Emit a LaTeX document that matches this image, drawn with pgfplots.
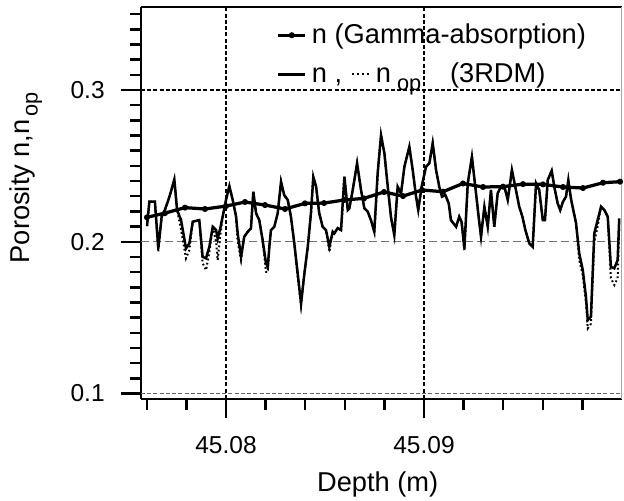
\documentclass[border=0pt]{standalone}
\usepackage{fontspec}
\setmainfont{Liberation Sans}
\usepackage{pgfplots}
\usepackage{pgfplotstable}
\pgfplotsset{compat=1.18}

% depth is given as offset from 45.07 m, in mm (45.08 m -> 10, 45.09 m -> 20)
\pgfplotstableread{
x n nop
6.01 0.2103 0.2103
6.13 0.2264 0.2264
6.41 0.2264 0.2264
6.58 0.1956 0.1934
6.75 0.2165 0.2165
6.88 0.2198 0.2198
7.06 0.2264 0.2264
7.22 0.2330 0.2330
7.39 0.2411 0.2411
7.53 0.2209 0.2209
7.73 0.2143 0.2080
7.98 0.1956 0.1891
8.15 0.1989 0.1946
8.32 0.2132 0.2132
8.65 0.2143 0.2143
8.82 0.1901 0.1860
8.99 0.1891 0.1813
9.16 0.1967 0.1930
9.33 0.2099 0.2099
9.50 0.2077 0.2000
9.58 0.2022 0.1879
9.71 0.2088 0.2040
9.83 0.2165 0.2165
10.00 0.2275 0.2275
10.17 0.2367 0.2367
10.34 0.2275 0.2275
10.51 0.2165 0.2165
10.59 0.2055 0.2000
10.76 0.1901 0.1880
10.92 0.2033 0.2033
11.10 0.2066 0.2066
11.26 0.2088 0.2088
11.38 0.2330 0.2330
11.52 0.2187 0.2187
11.68 0.2143 0.2143
11.85 0.2011 0.2011
12.02 0.1858 0.1802
12.11 0.1835 0.1800
12.19 0.1967 0.1967
12.27 0.2077 0.2077
12.44 0.2099 0.2099
12.61 0.2187 0.2187
12.78 0.2396 0.2396
12.94 0.2308 0.2308
13.12 0.2275 0.2275
13.28 0.2165 0.2165
13.45 0.1989 0.1989
13.62 0.1792 0.1770
13.79 0.1594 0.1580
13.96 0.1792 0.1792
14.13 0.1967 0.1967
14.29 0.2187 0.2187
14.41 0.2428 0.2428
14.55 0.2363 0.2363
14.71 0.2187 0.2187
14.88 0.2099 0.2099
15.05 0.2077 0.2077
15.22 0.1967 0.1934
15.39 0.2066 0.2066
15.47 0.2055 0.2055
15.64 0.2090 0.2090
15.81 0.2077 0.2077
15.98 0.2428 0.2428
16.15 0.2209 0.2209
16.23 0.2220 0.2220
16.40 0.2341 0.2341
16.62 0.2517 0.2517
16.82 0.2341 0.2341
16.99 0.2220 0.2220
17.16 0.2198 0.2198
17.32 0.2143 0.2143
17.49 0.2066 0.2066
17.66 0.2451 0.2451
17.83 0.2703 0.2703
18.00 0.2583 0.2583
18.17 0.2363 0.2363
18.33 0.2165 0.2165
18.50 0.2044 0.2044
18.67 0.2363 0.2363
18.84 0.2319 0.2319
19.01 0.2494 0.2494
19.26 0.2626 0.2626
19.43 0.2473 0.2473
19.60 0.2297 0.2297
19.71 0.2209 0.2209
19.88 0.2363 0.2363
20.10 0.2494 0.2494
20.27 0.2517 0.2517
20.44 0.2649 0.2649
20.61 0.2473 0.2473
20.77 0.2363 0.2363
20.91 0.2297 0.2297
21.08 0.2308 0.2308
21.25 0.2253 0.2253
21.36 0.2143 0.2143
21.62 0.2099 0.2099
21.78 0.2165 0.2165
21.90 0.2130 0.2130
22.04 0.1956 0.1940
22.21 0.2385 0.2385
22.42 0.2560 0.2560
22.59 0.2363 0.2363
22.76 0.2165 0.2165
22.88 0.2033 0.2033
23.05 0.2231 0.2231
23.22 0.2099 0.2099
23.38 0.2341 0.2341
23.55 0.2099 0.2099
23.72 0.2319 0.2319
23.89 0.2363 0.2363
24.06 0.2363 0.2363
24.23 0.2275 0.2275
24.44 0.2473 0.2473
24.61 0.2363 0.2363
24.81 0.2231 0.2231
24.97 0.2165 0.2165
25.12 0.2077 0.2077
25.32 0.1989 0.1989
25.49 0.1967 0.1967
25.66 0.2385 0.2385
25.82 0.2341 0.2341
26.00 0.2143 0.2143
26.11 0.2143 0.2143
26.25 0.2407 0.2407
26.45 0.2468 0.2468
26.58 0.2363 0.2363
26.75 0.2253 0.2253
26.88 0.2209 0.2209
27.02 0.2264 0.2264
27.17 0.2297 0.2297
27.29 0.2407 0.2407
27.42 0.2286 0.2286
27.68 0.2121 0.2121
27.84 0.1924 0.1880
28.02 0.1813 0.1780
28.18 0.1637 0.1600
28.27 0.1484 0.1429
28.43 0.1506 0.1460
28.60 0.2055 0.2000
28.77 0.2143 0.2100
28.94 0.2231 0.2231
29.11 0.2209 0.2209
29.28 0.2165 0.2165
29.44 0.1835 0.1760
29.61 0.1825 0.1715
29.78 0.1879 0.1760
29.86 0.2154 0.2100
}\rdm

\pgfplotstableread{
x g
6.01 0.2161
6.92 0.2189
7.93 0.2225
8.94 0.2216
10.00 0.2235
10.96 0.2262
11.97 0.2242
12.98 0.2216
13.99 0.2253
14.95 0.2255
15.96 0.2275
16.97 0.2286
17.98 0.2328
18.94 0.2301
19.90 0.2341
20.96 0.2330
21.97 0.2384
22.98 0.2361
23.99 0.2363
25.00 0.2380
26.01 0.2378
27.02 0.2361
28.03 0.2354
29.04 0.2389
29.90 0.2396
}\gammaabs

\pgfplotsset{
  gammaleg/.style={legend image code/.code={\draw[mark repeat=2, mark phase=2, ##1] plot coordinates {(0pt,0pt) (5.4pt,0pt) (10.8pt,0pt)};}},
  lineleg/.style={legend image code/.code={\draw[##1] (0pt,0pt) -- (10.8pt,0pt);}},
}

\newcommand{\dotsample}{\raisebox{0.3em}{\leaders\hbox to 1.9pt{\hss\rule{0.8pt}{0.7pt}\hss}\hskip 9.2pt}}
\newcommand{\sub}[1]{\raisebox{-0.3em}{\fontsize{8.7}{9}\selectfont #1}}

\begin{document}
\begin{tikzpicture}
\useasboundingbox (-56.4pt,-40.8pt) rectangle (193.2pt,159.6pt);
\begin{axis}[
  at={(0,0)}, anchor=south west,
  scale only axis, width=192.4pt, height=156.8pt,
  xmin=5.707, xmax=30, ymin=0.0964, ymax=0.3547,
  axis x line*=bottom, axis y line*=left,
  axis line style={line width=1pt, -},
  xtick={10,20}, xticklabels={45.08,45.09},
  minor xtick={6,8,12,14,16,18,22,24,26,28},
  ytick={0.1,0.2,0.3}, yticklabels={0.1,0.2,0.3},
  minor ytick={0.11,0.12,0.13,0.14,0.15,0.16,0.17,0.18,0.19,0.21,0.22,0.23,0.24,0.25,0.26,0.27,0.28,0.29,0.31,0.32,0.33,0.34,0.35},
  tick align=outside,
  major tick length=7.8pt, minor tick length=4.4pt,
  every tick/.style={black, line width=1pt},
  /pgf/number format/assume math mode=true,
  tick label style={font=\fontsize{9.8}{11}\selectfont},
  xticklabel style={yshift=-3.6pt},
  yticklabel style={xshift=-3.2pt},
  label style={font=\fontsize{10.9}{13}\selectfont},
  xlabel={Depth (m)},
  ylabel={Porosity n,n\hspace{1pt}\sub{op}},
  xlabel style={at={(axis description cs:0.492,-0.218)}, anchor=center},
  ylabel style={at={(axis description cs:-0.239,0.564)}, anchor=center},
  legend style={draw=none, fill=none, at={(axis description cs:0.281,0.972)}, anchor=north west,
    inner sep=0pt, row sep=2.4pt, font=\fontsize{10.9}{13}\selectfont,
    /tikz/every even column/.append style={column sep=4.8pt}},
  legend cell align=left,
  clip=true,
]
\addlegendimage{black, line width=1.3pt, mark=*, mark size=1pt, mark options={line width=0.4pt}, gammaleg}
\addlegendentry{n (Gamma-absorption)}
\addlegendimage{black, line width=1pt, lineleg}
\addlegendentry{n ,\hspace{3.5pt}\dotsample\hspace{0.8pt}n\hspace{2.4pt}\sub{op}\hspace{11.5pt}(3RDM)}

% grid lines
\draw[black, line width=0.45pt, dash pattern=on 1.6pt off 0.9pt] (axis cs:10,0.0964) -- (axis cs:10,0.3547);
\draw[black, line width=0.45pt, dash pattern=on 1.6pt off 0.9pt] (axis cs:20,0.0964) -- (axis cs:20,0.3547);
\draw[black, line width=0.45pt, dash pattern=on 1.6pt off 0.9pt] (axis cs:5.707,0.3) -- (axis cs:30,0.3);
\draw[black!55, line width=0.5pt, dash pattern=on 3.2pt off 1.6pt] (axis cs:5.707,0.2) -- (axis cs:30,0.2);
\draw[black!60, line width=0.45pt, dash pattern=on 1.6pt off 0.9pt] (axis cs:5.707,0.1) -- (axis cs:30,0.1);

\addplot[forget plot, black, line width=0.8pt, dash pattern=on 0.7pt off 1pt] table[x=x, y=nop] {\rdm};
\addplot[forget plot, black, line width=1pt] table[x=x, y=n] {\rdm};
\addplot[forget plot, black, line width=1.3pt, mark=*, mark size=1pt, mark options={line width=0.4pt}] table[x=x, y=g] {\gammaabs};

% top and right frame
\draw[black, line width=1pt] (rel axis cs:0,1) -- (rel axis cs:1,1);
\draw[black!35, line width=0.4pt] (rel axis cs:1,0) -- (rel axis cs:1,1);
\end{axis}
\end{tikzpicture}
\end{document}
